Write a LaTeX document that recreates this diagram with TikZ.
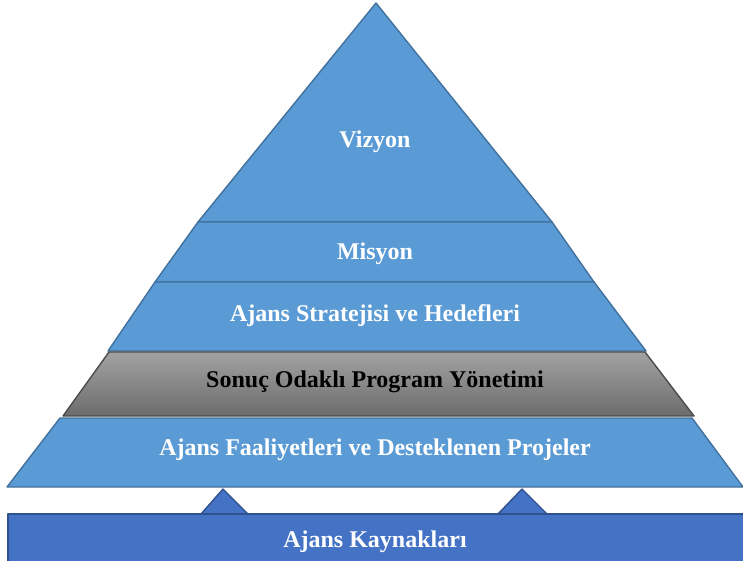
\documentclass[tikz,border=0pt]{standalone}
\usepackage{fontspec}
\setmainfont{Liberation Serif}
\definecolor{layerblue}{HTML}{5B9BD5}
\definecolor{layeredge}{HTML}{41719C}
\definecolor{basefill}{HTML}{4472C4}
\definecolor{baseedge}{HTML}{2F528F}
\definecolor{graytop}{HTML}{A2A2A2}
\definecolor{graybot}{HTML}{6C6C6C}
\tikzset{
	layer/.style={fill=layerblue, draw=layeredge, line width=1.4pt, line join=round},
	midlayer/.style={top color=graytop, bottom color=graybot, draw=black!70, line width=1.4pt, line join=round},
	baselayer/.style={fill=basefill, draw=baseedge, line width=1.4pt, line join=round},
	layertext/.style={text=white, font=\bfseries\fontsize{24}{28}\selectfont},
}

\begin{document}
\begin{tikzpicture}[x=1pt, y=-1pt]
				%%%%% START %%%%%
				\useasboundingbox (0, 0) rectangle (743, 560);
				
				\draw[layer] (376, 3) -- (552, 222) -- (198, 222) -- cycle;
				\node[layertext] (vizyon) at (375, 142) {Vizyon};
				
				\draw[layer] (198, 222) -- (552, 222) -- (594, 282) -- (155, 282) -- cycle;
				\node[layertext] (misyon) at (375, 254) {Misyon};
				
				\draw[layer] (155, 282) -- (594, 282) -- (646, 351) -- (108, 351) -- cycle;
				\node[layertext] (strateji) at (375, 316) {Ajans Stratejisi ve Hedefleri};
				
				\draw[midlayer] (109, 352) -- (645, 352) -- (694, 416) -- (63, 416) -- cycle;
				\node[layertext, text=black] (program) at (375, 382) {Sonuç Odaklı Program Yönetimi};
				
				\draw[layer] (60, 418) -- (692, 418) -- (743, 487) -- (7, 487) -- cycle;
				\node[layertext] (faaliyet) at (375, 450) {Ajans Faaliyetleri ve Desteklenen Projeler};
				
				% supports under the pyramid
				\draw[baselayer] (201, 514) -- (223, 489) -- (248, 514);
				\draw[baselayer] (498, 514) -- (522, 489) -- (547, 514);
				
				\draw[baselayer] (8, 514) rectangle (746, 563);
				\node[layertext] (kaynak) at (375, 542) {Ajans Kaynakları};
				%%%%% END %%%%%
\end{tikzpicture}
\end{document}
